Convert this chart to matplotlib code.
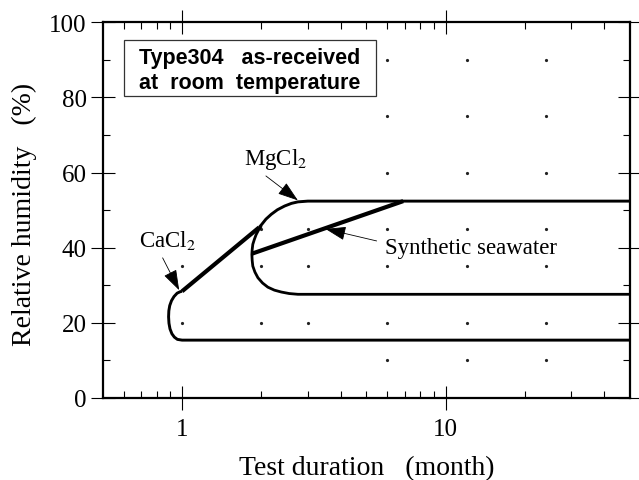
import matplotlib
matplotlib.use("Agg")
import matplotlib.pyplot as plt
from matplotlib.patches import Rectangle
from matplotlib.ticker import FixedLocator, NullFormatter

plt.rcParams['font.family'] = ['Liberation Serif', 'DejaVu Serif']
plt.rcParams['mathtext.fontset'] = 'stix'

# ---- test conditions (grid of dots) ----
dot_months = [1, 2, 3, 6, 12, 24]
dot_rh = [
    [35, 20],
    [45, 35, 20],
    [45, 35, 20],
    [90, 75, 60, 45, 35, 20, 10],
    [90, 75, 60, 45, 35, 20, 10],
    [90, 75, 60, 45, 35, 20, 10],
]

# ---- boundary curves ----
# CaCl2: lower boundary + rounded nose
cacl2_x = [50, 3.0, 1.0, 0.96, 0.935, 0.915, 0.9, 0.892, 0.889, 0.891, 0.898, 0.912, 0.932, 0.958, 0.985, 1.0]
cacl2_y = [15.4, 15.4, 15.4, 15.6, 16.2, 17.1, 18.4, 19.9, 21.6, 23.2, 24.6, 25.9, 27.0, 27.9, 28.3, 28.4]
# straight rise from CaCl2 to MgCl2
rise_x = [1.0, 1.96]
rise_y = [28.4, 45.4]
# MgCl2: rounded shoulder + upper boundary
mgcl2_x = [1.96, 2.0, 2.08, 2.18, 2.3, 2.45, 2.6, 2.75, 3.0, 50]
mgcl2_y = [45.4, 46.1, 47.6, 48.9, 50.1, 51.1, 51.8, 52.2, 52.4, 52.4]
# synthetic seawater: arc + middle boundary
sea_x = [2.0, 1.95, 1.91, 1.88, 1.855, 1.845, 1.84, 1.845, 1.855, 1.89, 1.94, 2.02, 2.115, 2.24, 2.38, 2.55, 2.75, 3.0, 50]
sea_y = [45.8, 44.7, 43.5, 42.2, 40.9, 39.5, 38.2, 36.6, 35.1, 33.5, 32.0, 30.6, 29.5, 28.7, 28.2, 27.8, 27.6, 27.6, 27.6]
# straight line of synthetic seawater
sea_line_x = [1.84, 6.9]
sea_line_y = [38.4, 52.4]

x_ticks = [1, 10]
y_ticks = [0, 20, 40, 60, 80, 100]

fig = plt.figure(figsize=(6.39, 4.81), dpi=100)
ax = fig.add_axes([0.1607, 0.1705, 0.8252, 0.7811])
ax.set_xscale('log')
ax.set_xlim(0.5, 50)
ax.set_ylim(0, 100)

# dots
for m, rhs in zip(dot_months, dot_rh):
    ax.plot([m] * len(rhs), rhs, ls='none', marker='o', ms=2.3,
            color='#222222', mec='none', zorder=2)

ax.plot(cacl2_x, cacl2_y, color='black', lw=2.1, solid_capstyle='butt', zorder=3)
ax.plot(mgcl2_x, mgcl2_y, color='black', lw=2.1, solid_capstyle='butt', zorder=3)
ax.plot(sea_x, sea_y, color='black', lw=2.0, solid_capstyle='butt', zorder=3)
ax.plot(rise_x, rise_y, color='black', lw=3.0, solid_capstyle='butt', zorder=3)
ax.plot(sea_line_x, sea_line_y, color='black', lw=3.0, solid_capstyle='butt', zorder=3)

# annotations
arrow = dict(arrowstyle='-|>,head_length=0.8,head_width=0.27', color='black',
             lw=0.6, shrinkA=0, shrinkB=0, mutation_scale=16)
ax.annotate('', xy=(2.75, 52.6), xytext=(2.08, 59.1), arrowprops=arrow)
ax.annotate('', xy=(0.975, 28.7), xytext=(0.844, 37.3), arrowprops=arrow)
ax.annotate('', xy=(3.5, 45.0), xytext=(5.47, 41.8), arrowprops=arrow)
ax.text(1.725, 62.2, 'MgCl$_2$', fontsize=16.5, ha='left', va='baseline')
ax.text(0.688, 40.4, 'CaCl$_2$', fontsize=16.5, ha='left', va='baseline')
ax.text(5.88, 38.7, 'Synthetic seawater', fontsize=16.5, ha='left', va='baseline')

# boxed title
ax.add_patch(Rectangle((0.603, 80.3), 5.42 - 0.603, 15.0, fill=False,
                       lw=0.9, edgecolor='#333333', zorder=4))
ax.text(1.80, 90.7, 'Type304   as-received', fontsize=15.5, fontweight='bold',
        family='Liberation Sans', ha='center', va='center')
ax.text(1.80, 84.0, 'at  room  temperature', fontsize=15.5, fontweight='bold',
        family='Liberation Sans', ha='center', va='center')

# axes style
for s in ax.spines.values():
    s.set_linewidth(1.6)
ax.xaxis.set_major_locator(FixedLocator(x_ticks))
ax.set_xticklabels(['1', '10'])
ax.xaxis.set_minor_locator(FixedLocator([0.6, 0.7, 0.8, 0.9, 2, 3, 4, 5, 6, 7, 8, 9, 20, 30, 40]))
ax.xaxis.set_minor_formatter(NullFormatter())
ax.set_yticks(y_ticks)
ax.yaxis.set_minor_locator(FixedLocator([10, 30, 50, 70, 90]))
ax.tick_params(which='major', direction='inout', length=17, width=0.8,
               labelsize=18, top=True, right=True)
ax.tick_params(axis='x', which='major', pad=6)
ax.tick_params(axis='y', which='major', pad=3)
ax.tick_params(which='minor', direction='in', length=5, width=0.8,
               top=True, right=True)

ax.set_xlabel('Test duration   (month)', fontsize=20)
ax.set_ylabel('Relative humidity   (%)', fontsize=20)
ax.xaxis.set_label_coords(0.5, -0.184)
ax.xaxis.label.set_va('center')
ax.yaxis.set_label_coords(-0.149, 0.492)
ax.yaxis.label.set_va('center')

fig.savefig('out.png', dpi=100)
